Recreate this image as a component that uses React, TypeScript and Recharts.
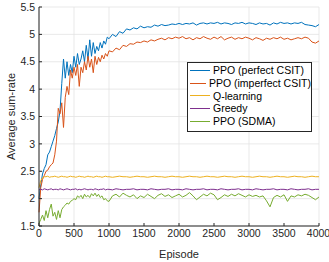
import { LineChart, Line, XAxis, YAxis, CartesianGrid } from "recharts";

// episode grid: 25-step up to 1000, then 50-step to 4000
const episodes = [
  0, 25, 50, 75, 100, 125, 150, 175, 200, 225, 250, 275, 300, 325, 350, 375, 400, 425, 450, 475,
  500, 525, 550, 575, 600, 625, 650, 675, 700, 725, 750, 775, 800, 825, 850, 875, 900, 925, 950, 975,
  1000, 1050, 1100, 1150, 1200, 1250, 1300, 1350, 1400, 1450, 1500, 1550, 1600, 1650, 1700, 1750,
  1800, 1850, 1900, 1950, 2000, 2050, 2100, 2150, 2200, 2250, 2300, 2350, 2400, 2450, 2500, 2550,
  2600, 2650, 2700, 2750, 2800, 2850, 2900, 2950, 3000, 3050, 3100, 3150, 3200, 3250, 3300, 3350,
  3400, 3450, 3500, 3550, 3600, 3650, 3700, 3750, 3800, 3850, 3900, 3950, 4000,
];

const ppoPerfect = [
  2.0, 2.25, 2.45, 2.55, 2.62, 2.8, 2.85, 2.95, 3.05, 3.15, 3.28, 3.4, 3.6, 4.1, 4.55, 4.2, 4.5, 4.25, 4.45, 4.3,
  4.6, 4.4, 4.65, 4.45, 4.55, 4.7, 4.5, 4.8, 4.55, 4.9, 4.6, 4.85, 4.65, 4.78, 4.7, 4.85, 4.75, 4.88, 4.82, 4.95,
  4.92, 5.0, 4.96, 5.05, 5.02, 5.1, 5.08, 5.12, 5.1, 5.15, 5.12, 5.14, 5.13, 5.17, 5.15, 5.18,
  5.16, 5.17, 5.19, 5.18, 5.2, 5.18, 5.2, 5.19, 5.21, 5.17, 5.2, 5.21, 5.19, 5.21, 5.2, 5.22,
  5.19, 5.21, 5.2, 5.18, 5.21, 5.2, 5.22, 5.19, 5.21, 5.2, 5.18, 5.21, 5.19, 5.2, 5.17, 5.21,
  5.19, 5.22, 5.2, 5.21, 5.19, 5.21, 5.2, 5.22, 5.18, 5.17, 5.16, 5.14, 5.18,
];

const ppoImperfect = [
  1.75, 2.2, 2.35, 2.42, 2.5, 2.52, 2.58, 2.62, 2.65, 2.8, 3.05, 3.65, 3.55, 3.75, 3.3, 3.85, 4.05, 3.9, 4.35, 4.2,
  4.4, 4.25, 4.45, 4.05, 4.4, 4.3, 4.5, 4.35, 4.6, 4.4, 4.55, 4.3, 4.6, 4.45, 4.58, 4.5, 4.62, 4.55, 4.65, 4.6,
  4.7, 4.68, 4.75, 4.72, 4.8, 4.78, 4.83, 4.82, 4.86, 4.85, 4.88, 4.86, 4.9, 4.88, 4.91, 4.93,
  4.9, 4.94, 4.92, 4.95, 4.93, 4.96, 4.92, 4.94, 4.9, 4.94, 4.92, 4.96, 4.93, 4.91, 4.95, 4.92,
  4.96, 4.9, 4.93, 4.95, 4.91, 4.94, 4.92, 4.95, 4.93, 4.9, 4.94, 4.92, 4.89, 4.93, 4.91, 4.94,
  4.92, 4.95, 4.91, 4.93, 4.9, 4.92, 4.94, 4.92, 4.95, 4.93, 4.86, 4.84, 4.88,
];

const qLearning = [
  2.2, 2.33, 2.38, 2.4, 2.4, 2.41, 2.39, 2.4, 2.4, 2.41, 2.4, 2.39, 2.4, 2.41, 2.4, 2.4, 2.39, 2.4, 2.41, 2.4,
  2.4, 2.39, 2.4, 2.41, 2.4, 2.4, 2.39, 2.4, 2.41, 2.4, 2.4, 2.39, 2.4, 2.41, 2.4, 2.4, 2.39, 2.4, 2.41, 2.4,
  2.4, 2.39, 2.4, 2.41, 2.4, 2.4, 2.39, 2.4, 2.41, 2.4, 2.4, 2.39, 2.4, 2.41, 2.4, 2.4,
  2.39, 2.4, 2.41, 2.4, 2.4, 2.39, 2.4, 2.41, 2.4, 2.4, 2.39, 2.4, 2.41, 2.4, 2.4, 2.39,
  2.4, 2.41, 2.4, 2.4, 2.39, 2.4, 2.41, 2.4, 2.4, 2.39, 2.4, 2.41, 2.4, 2.4, 2.39, 2.4,
  2.41, 2.4, 2.4, 2.39, 2.4, 2.41, 2.4, 2.4, 2.39, 2.4, 2.41, 2.4, 2.4,
];

const greedy = [
  2.16, 2.17, 2.16, 2.18, 2.17, 2.16, 2.17, 2.18, 2.16, 2.17, 2.17, 2.16, 2.18, 2.17, 2.16, 2.17, 2.18, 2.17, 2.16, 2.17,
  2.17, 2.18, 2.16, 2.17, 2.16, 2.17, 2.18, 2.17, 2.16, 2.17, 2.17, 2.16, 2.18, 2.17, 2.16, 2.17, 2.17, 2.18, 2.16, 2.17,
  2.17, 2.16, 2.18, 2.17, 2.16, 2.17, 2.17, 2.18, 2.16, 2.17, 2.17, 2.16, 2.18, 2.17, 2.16, 2.17,
  2.17, 2.18, 2.16, 2.17, 2.17, 2.16, 2.18, 2.17, 2.16, 2.17, 2.17, 2.18, 2.16, 2.17, 2.17, 2.16,
  2.18, 2.17, 2.16, 2.17, 2.17, 2.18, 2.16, 2.17, 2.17, 2.16, 2.18, 2.17, 2.16, 2.17, 2.17, 2.18,
  2.16, 2.17, 2.17, 2.16, 2.18, 2.17, 2.16, 2.17, 2.17, 2.18, 2.16, 2.17, 2.17,
];

const ppoSdma = [
  1.55, 1.62, 1.7, 1.6, 1.78, 1.65, 1.8, 1.9, 1.68, 1.75, 1.62, 1.78, 1.65, 1.8, 1.85, 1.88, 1.92, 1.9, 1.95, 1.97,
  2.0, 1.98, 2.05, 2.02, 2.06, 2.0, 2.08, 2.03, 2.06, 2.02, 2.09, 2.05, 2.1, 2.04, 2.08, 2.02, 2.05, 1.98, 2.0, 1.96,
  1.95, 2.05, 2.08, 2.03, 2.1, 2.06, 2.03, 2.07, 2.0, 2.05, 2.02, 2.08, 2.04, 2.0, 2.06, 2.09,
  2.04, 2.07, 2.02, 2.05, 2.08, 2.03, 2.06, 2.11, 2.05, 1.98, 2.03, 2.08, 2.05, 2.1, 2.07, 1.98,
  2.02, 2.07, 2.04, 2.08, 2.05, 2.09, 2.06, 2.03, 2.07, 2.04, 2.06, 2.03, 2.05, 1.96, 1.85, 2.02,
  2.06, 2.03, 2.07, 1.95, 2.05, 2.03, 2.07, 2.05, 2.08, 2.06, 2.02, 1.98, 2.03,
];

const xTicks = [0, 500, 1000, 1500, 2000, 2500, 3000, 3500, 4000];
const yTicks = [1.5, 2, 2.5, 3, 3.5, 4, 4.5, 5, 5.5];

const seriesInfo = [
  { key: "perfect", name: "PPO (perfect CSIT)", color: "#0072BD" },
  { key: "imperfect", name: "PPO (imperfect CSIT)", color: "#D95319" },
  { key: "qlearn", name: "Q-learning", color: "#EDB120" },
  { key: "greedy", name: "Greedy", color: "#7E2F8E" },
  { key: "sdma", name: "PPO (SDMA)", color: "#77AC30" },
];

const data = episodes.map((ep, i) => ({
  episode: ep,
  perfect: ppoPerfect[i],
  imperfect: ppoImperfect[i],
  qlearn: qLearning[i],
  greedy: greedy[i],
  sdma: ppoSdma[i],
}));

const FONT = "'Liberation Sans', Arial, Helvetica, sans-serif";
const AXIS = "#262626";

// legend drawn as an overlay so it does not shrink the plot area
function LegendBox() {
  return (
    <div
      style={{
        position: "absolute",
        left: 187,
        top: 62,
        width: 125,
        boxSizing: "border-box",
        background: "#fff",
        border: "1px solid #262626",
        padding: "1px 0 3px 2px",
        fontFamily: FONT,
        fontSize: 10.5,
        color: "#000",
        lineHeight: "12.8px",
      }}
    >
      {seriesInfo.map((s) => (
        <div key={s.key} style={{ display: "flex", alignItems: "center", whiteSpace: "nowrap" }}>
          <span style={{ display: "inline-block", width: 20, height: 1, background: s.color, marginRight: 3 }} />
          <span>{s.name}</span>
        </div>
      ))}
    </div>
  );
}

export default function App() {
  return (
    <div style={{ position: "absolute", left: 0, top: 0, width: 329, height: 262, background: "#fff" }}>
      <LineChart width={329} height={262} data={data} margin={{ top: 7, right: 10, left: 0, bottom: 0 }}>
        <CartesianGrid stroke="#e3e3e3" strokeWidth={0.8} horizontalValues={yTicks} verticalValues={xTicks} />
        <XAxis
          dataKey="episode"
          type="number"
          domain={[0, 4000]}
          ticks={xTicks}
          height={36}
          tickSize={-3}
          tickMargin={7}
          stroke={AXIS}
          tick={{ fill: AXIS, fontSize: 10.5, fontFamily: FONT }}
          label={{ value: "Episode", position: "insideBottom", offset: 4, fill: AXIS, fontSize: 11, fontFamily: FONT }}
        />
        <XAxis xAxisId="top" orientation="top" dataKey="episode" type="number" domain={[0, 4000]} ticks={xTicks} height={0} tickSize={-3} tick={false} stroke={AXIS} />
        <YAxis
          type="number"
          domain={[1.5, 5.5]}
          ticks={yTicks}
          width={39}
          tickSize={-3}
          tickMargin={7}
          stroke={AXIS}
          tick={{ fill: AXIS, fontSize: 10.5, fontFamily: FONT }}
          label={(props: any) => {
            const vb = props.viewBox;
            const cx = vb.x + 11;
            const cy = vb.y + vb.height / 2;
            return (
              <text x={cx} y={cy} transform={`rotate(-90 ${cx} ${cy})`} textAnchor="middle" dominantBaseline="central" fill={AXIS} fontSize={11} fontFamily={FONT}>
                Average sum-rate
              </text>
            );
          }}
        />
        <YAxis yAxisId="right" orientation="right" type="number" domain={[1.5, 5.5]} ticks={yTicks} width={0} tickSize={-3} tick={false} stroke={AXIS} />
        {seriesInfo.map((s) => (
          <Line
            key={s.key}
            type="linear"
            dataKey={s.key}
            name={s.name}
            stroke={s.color}
            strokeWidth={1}
            dot={false}
            isAnimationActive={false}
          />
        ))}
      </LineChart>
      <LegendBox />
    </div>
  );
}
